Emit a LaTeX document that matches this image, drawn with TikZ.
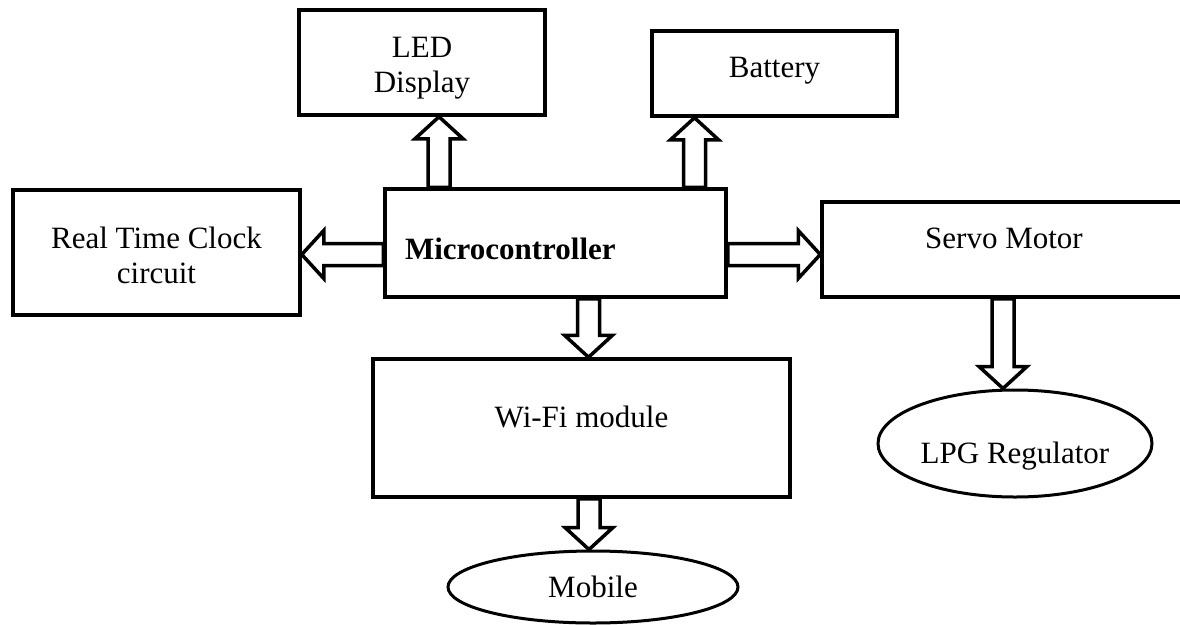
\documentclass[tikz,border=0pt]{standalone}
\usepackage{fontspec}
\setmainfont{Liberation Serif}
\usetikzlibrary{calc,shapes.geometric}

\tikzset{
  blk/.style={draw, line width=3.5pt, align=center, inner sep=0pt,
    font=\fontsize{31}{35}\selectfont},
  oval/.style={draw, ellipse, line width=3pt, inner sep=0pt,
    font=\fontsize{31}{35}\selectfont},
  hollow/.style={draw, line width=3.5pt, line join=miter,
    to path={
      ($(\tikztostart)!11pt!90:(\tikztotarget)$)
      -- ($($(\tikztotarget)!22pt!(\tikztostart)$)!11pt!90:(\tikztotarget)$)
      -- ($($(\tikztotarget)!22pt!(\tikztostart)$)!24pt!90:(\tikztotarget)$)
      -- (\tikztotarget)
      -- ($($(\tikztotarget)!22pt!(\tikztostart)$)!24pt!-90:(\tikztotarget)$)
      -- ($($(\tikztotarget)!22pt!(\tikztostart)$)!11pt!-90:(\tikztotarget)$)
      -- ($(\tikztostart)!11pt!-90:(\tikztotarget)$) -- cycle}}
}

\begin{document}
\begin{tikzpicture}[x=1pt,y=-1pt]
  \useasboundingbox (0,0) rectangle (1180,624);

  \node[blk,minimum width=246pt,minimum height=105pt] (led) at (422,62.5) {\rule{0pt}{31pt}LED\\Display};
  \node[blk,minimum width=245pt,minimum height=85pt,text height=22pt,text depth=15pt] (batt) at (774.5,73.5) {Battery};
  \node[blk,minimum width=287pt,minimum height=125pt] (rtc) at (156.5,252.5) {\rule{0pt}{27pt}Real Time Clock\\circuit};
  \node[blk,minimum height=108pt,text width=301pt,inner xsep=20pt,align=left,text height=32pt,text depth=0pt,
    font=\fontsize{31}{35}\selectfont\bfseries] (micro) at (555.5,243) {Microcontroller};
  \node[blk,minimum width=364pt,minimum height=95pt,text height=22pt,text depth=24pt] (servo) at (1004,249.5) {Servo Motor};
  \node[blk,minimum width=417pt,minimum height=138pt,text height=22pt,text depth=24pt] (wifi) at (581.5,428) {Wi-Fi module};
  \node[oval,minimum width=274pt,minimum height=107pt,text height=46pt,text depth=7pt] (lpg) at (1015,443.5) {LPG Regulator};
  \node[oval,minimum width=290pt,minimum height=72pt] (mob) at (593,587) {Mobile};

  % arrow feet on the boxes
  \coordinate (m1) at ([xshift=-116.5pt]micro.north);
  \coordinate (m2) at ([xshift=139pt]micro.north);
  \coordinate (m3) at ([yshift=-11.5pt]micro.west);
  \coordinate (m4) at ([yshift=-11.5pt]micro.east);
  \coordinate (m5) at ([xshift=33pt]micro.south);
  \coordinate (m6) at ([xshift=7.5pt]wifi.south);
  \coordinate (m7) at ([xshift=-1pt]servo.south);

  \draw[hollow] (m1) to (m1 |- led.south);
  \draw[hollow] (m2) to (m2 |- batt.south);
  \draw[hollow] (m3) to (m3 -| rtc.east);
  \draw[hollow] (m4) to (m4 -| servo.west);
  \draw[hollow] (m5) to (m5 |- wifi.north);
  \draw[hollow] (m6) to (m6 |- mob.north);
  \draw[hollow] (m7) to (m7 |- lpg.north);
\end{tikzpicture}
\end{document}
